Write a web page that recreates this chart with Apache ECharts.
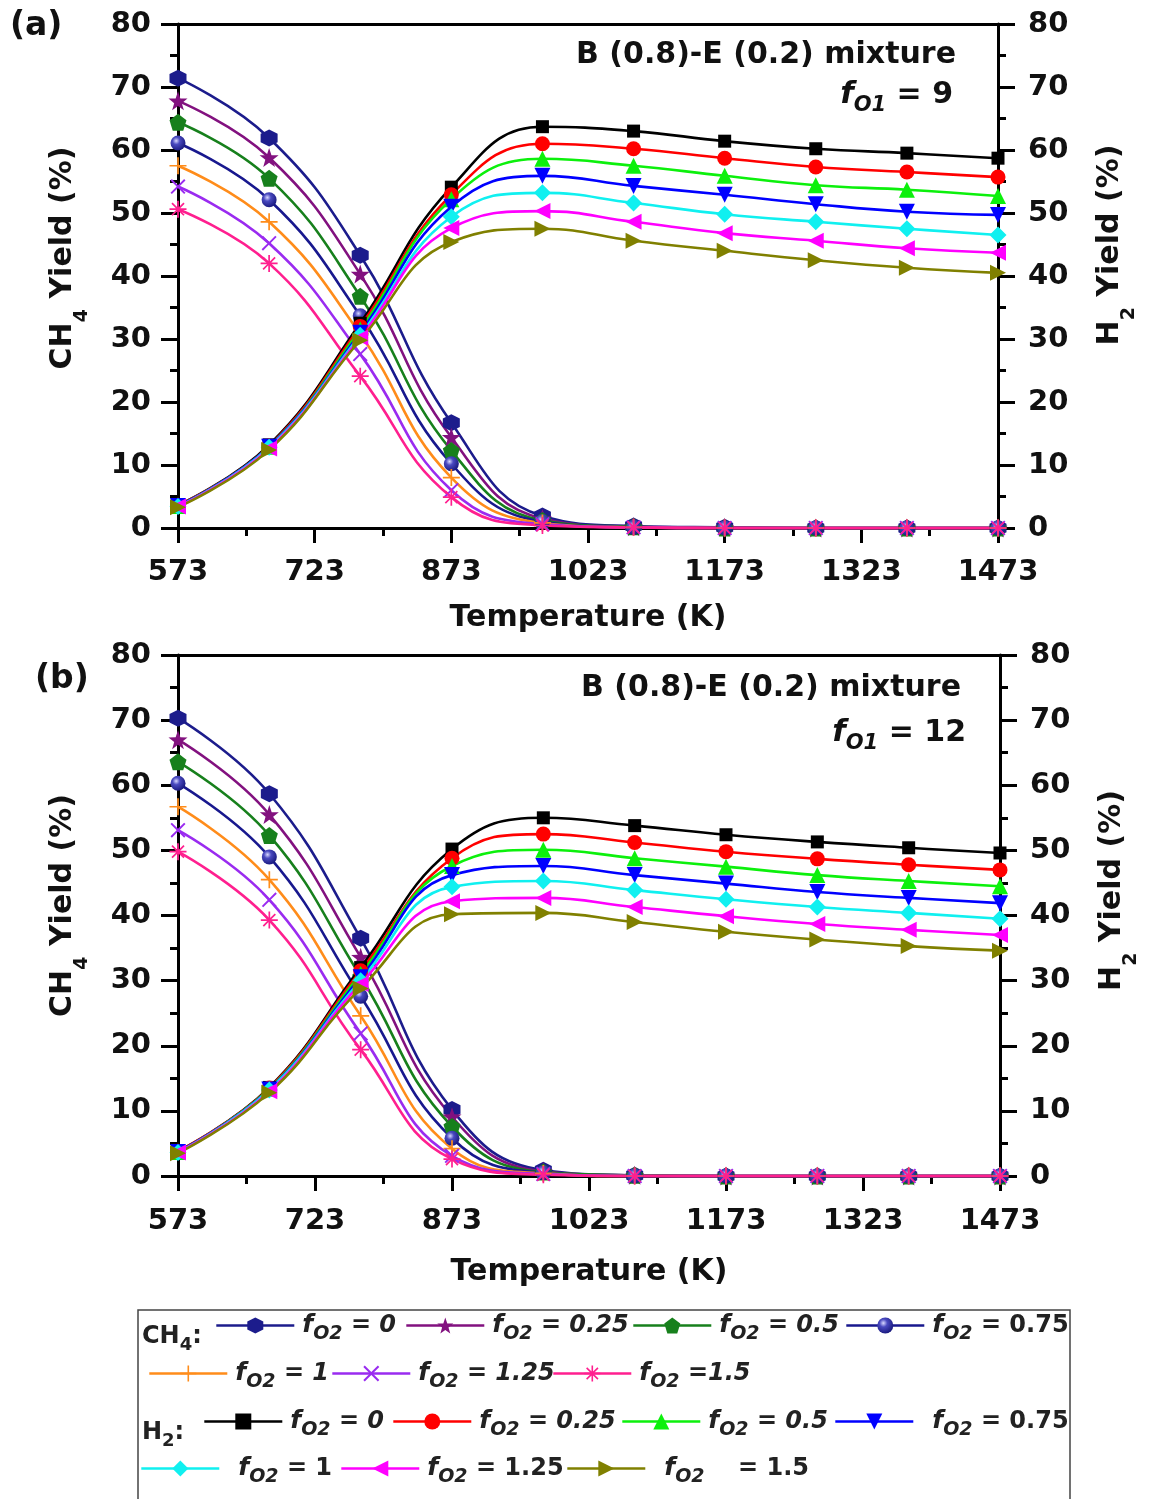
<!DOCTYPE html>
<html><head><meta charset="utf-8">
<script src="https://cdn.jsdelivr.net/npm/echarts@6/dist/echarts.min.js"></script>
<style>html,body{margin:0;padding:0;background:#fff}#c{width:1150px;height:1499px}</style>
</head><body><div id="c"></div>
<script>
// ---------- DATA ----------
const temps = [573, 673, 773, 873, 973, 1073, 1173, 1273, 1373, 1473];
const xTickLabels = [573, 723, 873, 1023, 1173, 1323, 1473];
const yTickLabels = [0, 10, 20, 30, 40, 50, 60, 70, 80];
const fO2Values = ['0', '0.25', '0.5', '0.75', '1', '1.25', '1.5'];

// Panel (a): fO1 = 9
const ch4A_f0   = [71.4, 61.9, 43.3, 16.7, 1.9, 0.3, 0.1, 0, 0, 0];
const ch4A_f025 = [67.8, 58.8, 40.3, 14.4, 1.5, 0.2, 0.1, 0, 0, 0];
const ch4A_f05  = [64.4, 55.5, 36.8, 12.3, 1.2, 0.2, 0, 0, 0, 0];
const ch4A_f075 = [61.1, 52.1, 33.7, 10.2, 1.0, 0.1, 0, 0, 0, 0];
const ch4A_f1   = [57.5, 48.6, 30.8, 8.0, 0.8, 0.1, 0, 0, 0, 0];
const ch4A_f125 = [54.2, 45.2, 27.6, 6.0, 0.6, 0.1, 0, 0, 0, 0];
const ch4A_f15  = [50.6, 42.0, 24.1, 4.9, 0.4, 0.1, 0, 0, 0, 0];

const h2A_f0   = [3.6, 13.2, 32.5, 54.1, 63.7, 63.0, 61.4, 60.2, 59.5, 58.7];
const h2A_f025 = [3.6, 13.0, 32.0, 52.9, 61.0, 60.2, 58.7, 57.3, 56.5, 55.7];
const h2A_f05  = [3.5, 12.9, 31.5, 52.2, 58.6, 57.5, 55.9, 54.4, 53.7, 52.7];
const h2A_f075 = [3.5, 12.9, 31.0, 51.0, 55.9, 54.3, 52.9, 51.4, 50.2, 49.7];
const h2A_f1   = [3.4, 12.8, 30.6, 49.4, 53.2, 51.6, 49.8, 48.6, 47.5, 46.5];
const h2A_f125 = [3.4, 12.6, 30.2, 47.6, 50.3, 48.6, 46.8, 45.6, 44.4, 43.7];
const h2A_f15  = [3.3, 12.4, 29.8, 45.4, 47.5, 45.6, 44.0, 42.5, 41.3, 40.5];

// Panel (b): fO1 = 12
const ch4B_f0   = [70.3, 58.7, 36.5, 10.2, 0.9, 0.1, 0, 0, 0, 0];
const ch4B_f025 = [67.0, 55.5, 33.6, 9.1, 0.7, 0.1, 0, 0, 0, 0];
const ch4B_f05  = [63.6, 52.3, 30.6, 7.6, 0.6, 0.1, 0, 0, 0, 0];
const ch4B_f075 = [60.3, 49.0, 27.6, 5.8, 0.5, 0, 0, 0, 0, 0];
const ch4B_f1   = [56.7, 45.5, 24.6, 4.2, 0.4, 0, 0, 0, 0, 0];
const ch4B_f125 = [53.1, 42.4, 21.9, 3.1, 0.3, 0, 0, 0, 0, 0];
const ch4B_f15  = [49.8, 39.3, 19.4, 2.6, 0.2, 0, 0, 0, 0, 0];

const h2B_f0   = [3.8, 13.6, 32.0, 50.2, 55.0, 53.8, 52.4, 51.3, 50.4, 49.6];
const h2B_f025 = [3.8, 13.5, 31.5, 48.8, 52.5, 51.2, 49.8, 48.7, 47.8, 47.0];
const h2B_f05  = [3.7, 13.4, 31.0, 47.6, 50.1, 48.8, 47.5, 46.2, 45.3, 44.5];
const h2B_f075 = [3.7, 13.3, 30.5, 46.2, 47.6, 46.2, 44.9, 43.6, 42.7, 41.9];
const h2B_f1   = [3.6, 13.2, 30.0, 44.4, 45.3, 43.9, 42.5, 41.3, 40.4, 39.5];
const h2B_f125 = [3.6, 13.0, 29.5, 42.2, 42.7, 41.3, 39.9, 38.7, 37.8, 37.0];
const h2B_f15  = [3.5, 12.8, 28.8, 40.2, 40.4, 39.0, 37.5, 36.3, 35.3, 34.6];

// ---------- STYLE ----------
const FONT = 'DejaVu Sans';
const HEX = 'path://M0,-10L8.66,-5L8.66,5L0,10L-8.66,5L-8.66,-5Z';
const STAR = 'path://M0,-10L2.35,-3.24L9.51,-3.09L3.8,1.24L5.88,8.09L0,4L-5.88,8.09L-3.8,1.24L-9.51,-3.09L-2.35,-3.24Z';
const PENT = 'path://M0,-10L9.51,-3.09L5.88,8.09L-5.88,8.09L-9.51,-3.09Z';
const PLUS = 'path://M-1,-10L1,-10L1,-1L10,-1L10,1L1,1L1,10L-1,10L-1,1L-10,1L-10,-1L-1,-1Z';
const XMARK = 'path://M6.36,-7.78L7.78,-6.36L1.41,0L7.78,6.36L6.36,7.78L0,1.41L-6.36,7.78L-7.78,6.36L-1.41,0L-7.78,-6.36L-6.36,-7.78L0,-1.41Z';
const ASTER = 'path://M-1,-10L1,-10L1,-1L10,-1L10,1L1,1L1,10L-1,10L-1,1L-10,1L-10,-1L-1,-1Z M6.36,-7.78L7.78,-6.36L1.41,0L7.78,6.36L6.36,7.78L0,1.41L-6.36,7.78L-7.78,6.36L-1.41,0L-7.78,-6.36L-6.36,-7.78L0,-1.41Z';
const SPHERE = {type:'radial', x:0.38, y:0.35, r:0.7, colorStops:[{offset:0,color:'#d8d8ff'},{offset:0.35,color:'#4a4ac0'},{offset:1,color:'#16167a'}]};

const ch4Styles = [
  {color:'#1c1c8c', symbol:HEX, size:17},
  {color:'#82117f', symbol:STAR, size:19},
  {color:'#17801c', symbol:PENT, size:17},
  {color:SPHERE, line:'#18188e', symbol:'circle', size:15},
  {color:'#ff8c1a', symbol:PLUS, size:17},
  {color:'#9a2bf0', symbol:XMARK, size:15},
  {color:'#ff1f8f', symbol:ASTER, size:17}
];
const h2Styles = [
  {color:'#000000', symbol:'rect', size:13},
  {color:'#ff0000', symbol:'circle', size:15},
  {color:'#0cf00c', symbol:'triangle', size:16},
  {color:'#0000ff', symbol:'triangle', size:16, rot:180},
  {color:'#10f0f0', symbol:'diamond', size:17},
  {color:'#ff00ff', symbol:'triangle', size:16, rot:90},
  {color:'#808000', symbol:'triangle', size:16, rot:-90}
];

const ch4A = [ch4A_f0, ch4A_f025, ch4A_f05, ch4A_f075, ch4A_f1, ch4A_f125, ch4A_f15];
const h2A  = [h2A_f0, h2A_f025, h2A_f05, h2A_f075, h2A_f1, h2A_f125, h2A_f15];
const ch4B = [ch4B_f0, ch4B_f025, ch4B_f05, ch4B_f075, ch4B_f1, ch4B_f125, ch4B_f15];
const h2B  = [h2B_f0, h2B_f025, h2B_f05, h2B_f075, h2B_f1, h2B_f125, h2B_f15];

function mkSeries(name, vals, xi, yi, st, z) {
  return {
    type:'line', name, xAxisIndex:xi, yAxisIndex:yi, z,
    data: temps.map((t, i) => [t, vals[i]]),
    smooth: 0.45, symbol: st.symbol, symbolSize: st.size, symbolRotate: st.rot || 0,
    showAllSymbol: true, clip: false,
    lineStyle: {color: st.line || st.color, width: 2.6},
    itemStyle: {color: st.color, borderWidth: 0},
    emphasis: {disabled: true}
  };
}
const ch4Names = fO2Values.map((v, i) => 'CH4_' + i);
const h2Names = fO2Values.map((v, i) => 'H2_' + i);
const series = [];
ch4A.forEach((d, i) => series.push(mkSeries(ch4Names[i], d, 0, 0, ch4Styles[i], 2)));
ch4B.forEach((d, i) => series.push(mkSeries(ch4Names[i], d, 2, 2, ch4Styles[i], 2)));
h2A.forEach((d, i) => series.push(mkSeries(h2Names[i], d, 0, 1, h2Styles[i], 3)));
h2B.forEach((d, i) => series.push(mkSeries(h2Names[i], d, 2, 3, h2Styles[i], 3)));

const axLine = {show:true, onZero:false, lineStyle:{color:'#000', width:3}};
const lblStyle = {fontFamily:FONT, fontWeight:'bold', fontSize:29, color:'#111'};

function xAx(grid, gap, lblMargin) {
  return {
    type:'value', gridIndex:grid, position:'bottom', min:xTickLabels[0], max:xTickLabels[xTickLabels.length-1],
    interval: xTickLabels[1] - xTickLabels[0],
    axisLine: axLine,
    axisTick: {show:true, length:15, lineStyle:{color:'#000', width:3}},
    minorTick: {show:true, splitNumber:2, length:8, lineStyle:{color:'#000', width:3}},
    splitLine: {show:false},
    axisLabel: Object.assign({margin:lblMargin, formatter: v => String(v)}, lblStyle),
    name:'Temperature (K)', nameLocation:'middle', nameGap:gap,
    nameTextStyle:{fontFamily:FONT, fontWeight:'bold', fontSize:30, color:'#111'}
  };
}
function xTop(grid) {
  return {type:'value', gridIndex:grid, position:'top', min:xTickLabels[0], max:xTickLabels[xTickLabels.length-1],
    axisLine: axLine, axisTick:{show:false}, axisLabel:{show:false}, splitLine:{show:false}};
}
const nameRich = {
  a:{fontFamily:FONT, fontWeight:'bold', fontSize:30, color:'#111'},
  b:{fontFamily:FONT, fontWeight:'bold', fontSize:19, color:'#111', padding:[38,0,0,0]}
};
function yAx(grid, pos, name, gap, pad) {
  return {
    type:'value', gridIndex:grid, position:pos, min:yTickLabels[0], max:yTickLabels[yTickLabels.length-1],
    interval: yTickLabels[1] - yTickLabels[0],
    axisLine: axLine,
    axisTick: {show:true, length:17, lineStyle:{color:'#000', width:3}},
    minorTick: {show:true, splitNumber:2, length:8, lineStyle:{color:'#000', width:3}},
    splitLine: {show:false},
    axisLabel: Object.assign({margin: pos === 'left' ? 27 : 30}, lblStyle),
    name, nameLocation:'middle', nameRotate:90, nameGap:gap,
    nameTextStyle:{rich:nameRich, padding:pad}
  };
}

const subRich = {
  f:{fontFamily:FONT, fontWeight:'bold', fontStyle:'italic', fontSize:25, color:'#222'},
  s:{fontFamily:FONT, fontWeight:'bold', fontStyle:'italic', fontSize:19, color:'#222', padding:[18,0,0,0]},
  i:{fontFamily:FONT, fontWeight:'bold', fontStyle:'italic', fontSize:24, color:'#222'},
  n:{fontFamily:FONT, fontWeight:'bold', fontSize:24, color:'#222'}
};
const legendText = {
  CH4_0:'{f|f}{s|O2}{i| = 0}', CH4_1:'{f|f}{s|O2}{i| = 0.25}', CH4_2:'{f|f}{s|O2}{i| = 0.5}',
  CH4_3:'{f|f}{s|O2}{n| = 0.75}', CH4_4:'{f|f}{s|O2}{i| = 1}', CH4_5:'{f|f}{s|O2}{i| = 1.25}',
  CH4_6:'{f|f}{s|O2}{i| =1.5}',
  H2_0:'{f|f}{s|O2}{i| = 0}', H2_1:'{f|f}{s|O2}{i| = 0.25}', H2_2:'{f|f}{s|O2}{i| = 0.5}',
  H2_3:'{f|f}{s|O2}{n| = 0.75}', H2_4:'{f|f}{s|O2}{n| = 1}', H2_5:'{f|f}{s|O2}{n| = 1.25}',
  H2_6:'{f|f}{s|O2}{n|    = 1.5}'
};
const legendPos = {
  CH4_0:[215,1332], CH4_1:[405,1332], CH4_2:[632,1332], CH4_3:[845,1332],
  CH4_4:[148,1380], CH4_5:[331,1380], CH4_6:[552,1380],
  H2_0:[203,1428], H2_1:[392,1428], H2_2:[621,1428], H2_3:[834,1428],
  H2_4:[140,1475], H2_5:[340,1475], H2_6:[566,1475]
};
const legendTextGap = {H2_3:14, H2_4:14, H2_6:14};
const legends = Object.keys(legendPos).map(k => ({
  data:[k], left:legendPos[k][0], top:legendPos[k][1] - 19, padding:0, itemGap:0,
  itemWidth:78, itemHeight:20, selectedMode:false,
  lineStyle:{width:2.6},
  formatter: n => legendText[n],
  textStyle:{fontFamily:FONT, fontWeight:'bold', fontSize:24, color:'#222', rich:subRich,
    padding:[0, 0, 0, legendTextGap[k] || 3]}
}));

const gRich = {
  f:{fontFamily:FONT, fontWeight:'bold', fontStyle:'italic', fontSize:31, fill:'#111'},
  s:{fontFamily:FONT, fontWeight:'bold', fontStyle:'italic', fontSize:21, fill:'#111', padding:[22,0,0,0]},
  n:{fontFamily:FONT, fontWeight:'bold', fontSize:30, fill:'#111'},
  c:{fontFamily:FONT, fontWeight:'bold', fontSize:24, fill:'#222'},
  d:{fontFamily:FONT, fontWeight:'bold', fontSize:18, fill:'#222', padding:[16,0,0,0]}
};
function gText(x, y, text, align, font) {
  return {type:'text', x, y, z:10, style:{text, font: font || ('bold 30px "' + FONT + '"'), fill:'#111',
    textAlign: align || 'left', textVerticalAlign:'middle', rich:gRich}};
}

const option = {
  animation:false,
  backgroundColor:'#fff',
  grid:[
    {left:178, top:24, width:820, height:504},
    {left:178, top:655, width:822, height:521}
  ],
  xAxis:[xAx(0, 75, 30), xTop(0), xAx(1, 81, 31), xTop(1)],
  yAxis:[
    yAx(0, 'left', '{a|CH}{b|4}{a| Yield (%)}', 86, [0, 0, 0, 36]),
    yAx(0, 'right', '{a|H}{b|2}{a| Yield (%)}', 84, [0, 0, 0, 62]),
    yAx(1, 'left', '{a|CH}{b|4}{a| Yield (%)}', 86, [0, 0, 0, 20]),
    yAx(1, 'right', '{a|H}{b|2}{a| Yield (%)}', 84, [0, 0, 0, 50])
  ],
  legend: legends,
  series,
  graphic:[
    gText(10, 26, '(a)', 'left', 'bold 33px "' + FONT + '"'),
    gText(35, 679, '(b)', 'left', 'bold 33px "' + FONT + '"'),
    gText(956, 55, 'B (0.8)-E (0.2) mixture', 'right'),
    gText(953, 95, '{f|f}{s|O1}{n| = 9}', 'right'),
    gText(961, 688, 'B (0.8)-E (0.2) mixture', 'right'),
    gText(966, 733, '{f|f}{s|O1}{n| = 12}', 'right'),
    gText(142, 1337, '{c|CH}{d|4}{c|:}', 'left'),
    gText(142, 1433, '{c|H}{d|2}{c|:}', 'left'),
    {type:'rect', z:0, shape:{x:138, y:1310, width:932, height:200}, style:{fill:'none', stroke:'#444', lineWidth:1.5}}
  ]
};
const chart = echarts.init(document.getElementById('c'), null, {renderer:'canvas'});
chart.setOption(option);
</script></body></html>
